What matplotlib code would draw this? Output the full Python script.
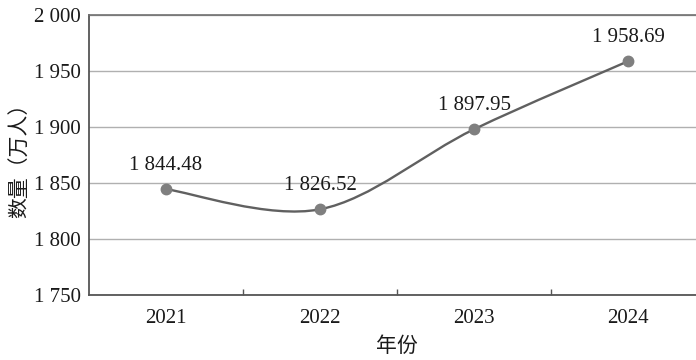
import matplotlib
matplotlib.use("Agg")
import matplotlib.pyplot as plt
from matplotlib.path import Path
from matplotlib.patches import PathPatch
from matplotlib.ticker import FuncFormatter, FixedLocator

years = ["2021", "2022", "2023", "2024"]
values = [1844.48, 1826.52, 1897.95, 1958.69]
y_ticks = [1750, 1800, 1850, 1900, 1950, 2000]

SERIF = ["Liberation Serif", "DejaVu Serif"]
CJK = ["Noto Sans CJK SC", "DejaVu Sans"]

fig = plt.figure(figsize=(6.96, 3.6), dpi=100)
ax = fig.add_axes([89 / 696, 65 / 360, 616 / 696, 280 / 360])

x = list(range(len(values)))
pts = list(zip(x, values))

# smooth (Catmull-Rom style) curve built as Bezier path in data coordinates
verts = [pts[0]]
codes = [Path.MOVETO]
n = len(pts)
for i in range(n - 1):
    p0 = pts[i - 1] if i > 0 else pts[i]
    p1 = pts[i]
    p2 = pts[i + 1]
    p3 = pts[i + 2] if i + 2 < n else pts[i + 1]
    c1 = (p1[0] + (p2[0] - p0[0]) / 6, p1[1] + (p2[1] - p0[1]) / 6)
    c2 = (p2[0] - (p3[0] - p1[0]) / 6, p2[1] - (p3[1] - p1[1]) / 6)
    verts += [c1, c2, p2]
    codes += [Path.CURVE4] * 3
ax.add_patch(PathPatch(Path(verts, codes), facecolor="none",
                       edgecolor="#606060", lw=1.7, zorder=3))
ax.plot(x, values, linestyle="none", marker="o", markersize=7.5,
        color="#7f7f7f", zorder=4)

for xi, v in zip(x, values):
    label = f"{v:,.2f}".replace(",", " ")
    ax.annotate(label, (xi, v), xytext=(0, 10), textcoords="offset points",
                ha="center", va="bottom", fontsize=15, family=SERIF,
                color="#1a1a1a")

ax.set_xlim(-0.5, 3.5)
ax.set_ylim(1750, 2000)
ax.set_yticks(y_ticks)
ax.yaxis.set_major_formatter(FuncFormatter(lambda v, p: f"{int(v):,}".replace(",", " ")))
ax.set_xticks(x)
ax.set_xticklabels(years)
ax.xaxis.set_minor_locator(FixedLocator([0.5, 1.5, 2.5]))
ax.tick_params(axis="x", which="major", length=0, pad=10)
ax.tick_params(axis="x", which="minor", length=4, direction="in", color="#555555", width=1)
ax.tick_params(axis="y", length=0, pad=6)
for lab in ax.get_xticklabels() + ax.get_yticklabels():
    lab.set_fontfamily(SERIF)
    lab.set_fontsize(15)
    lab.set_color("#1a1a1a")

ax.grid(axis="y", color="#b0b0b0", lw=1)
ax.grid(axis="x", visible=False)
ax.set_axisbelow(True)
for s in ["left", "bottom"]:
    ax.spines[s].set_color("#555555")
    ax.spines[s].set_linewidth(1.3)
ax.spines["top"].set_color("#707070")
ax.spines["top"].set_linewidth(1.2)
ax.spines["right"].set_visible(False)

ax.set_xlabel("年份", family=CJK, fontsize=15, color="#1a1a1a", labelpad=5)
ax.set_ylabel("数量（万人）", family=CJK, fontsize=15, color="#1a1a1a", labelpad=2)

fig.savefig("out.png", dpi=100)
